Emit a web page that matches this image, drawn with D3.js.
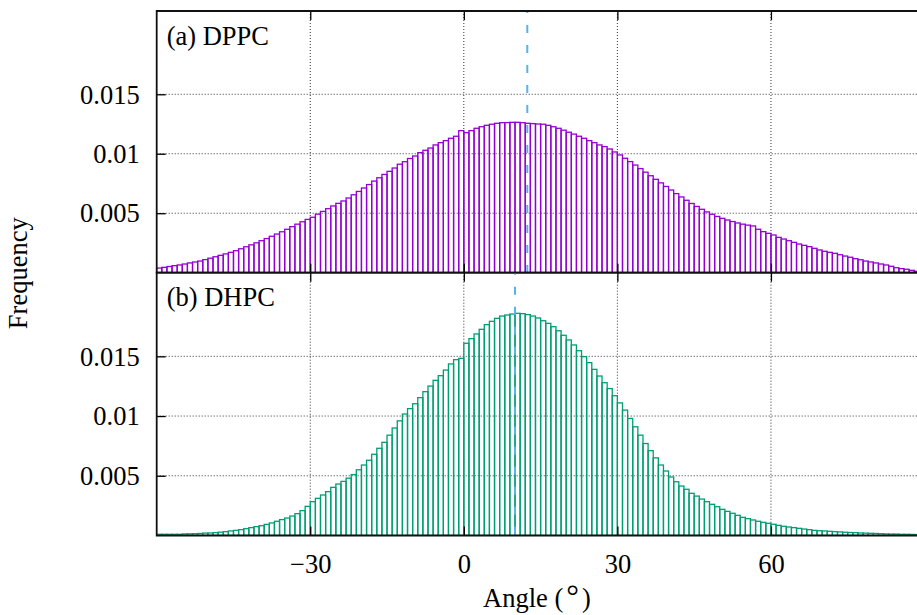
<!DOCTYPE html>
<html>
<head>
<meta charset="utf-8">
<script src="https://cdn.jsdelivr.net/npm/d3@7"></script>
<style>
  html, body { margin: 0; padding: 0; background: #fff; }
  svg { display: block; }
  text { font-family: "Liberation Serif", "Times New Roman", serif; fill: #000; }
</style>
</head>
<body>
<svg id="chart" width="917" height="615"></svg>
<script>
// Histogram bins: left edges in degrees, 1° wide
const binStart = -60;
const binWidth = 1;

// DPPC angle distribution, bins -60 .. 89
const dppc = [
  0.00039, 0.00045, 0.00052, 0.00059, 0.00065, 0.00073, 0.00082, 0.00090, 0.00098, 0.00110,
  0.00122, 0.00134, 0.00146, 0.00158, 0.00171, 0.00185, 0.00201, 0.00218, 0.00234, 0.00251,
  0.00269, 0.00287, 0.00306, 0.00325, 0.00344, 0.00365, 0.00387, 0.00408, 0.00428, 0.00448,
  0.00466, 0.00492, 0.00515, 0.00538, 0.00561, 0.00583, 0.00603, 0.00628, 0.00655, 0.00683,
  0.00712, 0.00741, 0.00770, 0.00798, 0.00826, 0.00852, 0.00880, 0.00912, 0.00933, 0.00960,
  0.00981, 0.01009, 0.01029, 0.01048, 0.01074, 0.01093, 0.01110, 0.01130, 0.01147, 0.01194,
  0.01177, 0.01194, 0.01214, 0.01227, 0.01239, 0.01248, 0.01256, 0.01261, 0.01262, 0.01264,
  0.01264, 0.01261, 0.01256, 0.01253, 0.01250, 0.01248, 0.01239, 0.01227, 0.01214, 0.01198,
  0.01181, 0.01165, 0.01147, 0.01130, 0.01110, 0.01093, 0.01074, 0.01060, 0.01040, 0.01015,
  0.00990, 0.00962, 0.00934, 0.00905, 0.00875, 0.00845, 0.00815, 0.00785, 0.00755, 0.00725,
  0.00695, 0.00665, 0.00637, 0.00609, 0.00582, 0.00557, 0.00533, 0.00511, 0.00491, 0.00473,
  0.00457, 0.00443, 0.00430, 0.00418, 0.00408, 0.00400, 0.00393, 0.00365, 0.00345, 0.00331,
  0.00317, 0.00297, 0.00283, 0.00269, 0.00255, 0.00241, 0.00230, 0.00219, 0.00205, 0.00191,
  0.00180, 0.00171, 0.00163, 0.00151, 0.00140, 0.00130, 0.00118, 0.00109, 0.00098, 0.00090,
  0.00082, 0.00073, 0.00065, 0.00054, 0.00042, 0.00034, 0.00029, 0.00020, 0.00012, 0.00005
];

// DHPC angle distribution, bins -60 .. 89
const dhpc = [
  0.00010, 0.00010, 0.00010, 0.00010, 0.00010, 0.00013, 0.00014, 0.00015, 0.00017, 0.00020,
  0.00021, 0.00024, 0.00028, 0.00032, 0.00038, 0.00043, 0.00049, 0.00057, 0.00066, 0.00074,
  0.00082, 0.00093, 0.00105, 0.00119, 0.00133, 0.00146, 0.00163, 0.00183, 0.00208, 0.00244,
  0.00283, 0.00311, 0.00339, 0.00367, 0.00403, 0.00431, 0.00453, 0.00480, 0.00510, 0.00550,
  0.00590, 0.00630, 0.00680, 0.00730, 0.00780, 0.00840, 0.00900, 0.00960, 0.01017, 0.01062,
  0.01103, 0.01154, 0.01204, 0.01251, 0.01299, 0.01338, 0.01385, 0.01436, 0.01472, 0.01483,
  0.01609, 0.01648, 0.01687, 0.01726, 0.01765, 0.01793, 0.01818, 0.01837, 0.01846, 0.01854,
  0.01860, 0.01857, 0.01849, 0.01837, 0.01821, 0.01798, 0.01776, 0.01748, 0.01714, 0.01676,
  0.01637, 0.01595, 0.01547, 0.01497, 0.01447, 0.01391, 0.01335, 0.01279, 0.01230, 0.01170,
  0.01110, 0.01050, 0.00980, 0.00910, 0.00840, 0.00770, 0.00710, 0.00650, 0.00590, 0.00540,
  0.00490, 0.00450, 0.00414, 0.00387, 0.00353, 0.00330, 0.00305, 0.00283, 0.00261, 0.00241,
  0.00219, 0.00202, 0.00186, 0.00169, 0.00152, 0.00141, 0.00130, 0.00119, 0.00110, 0.00102,
  0.00094, 0.00085, 0.00077, 0.00071, 0.00066, 0.00060, 0.00054, 0.00049, 0.00043, 0.00040,
  0.00038, 0.00035, 0.00032, 0.00030, 0.00027, 0.00025, 0.00024, 0.00021, 0.00020, 0.00018,
  0.00017, 0.00015, 0.00013, 0.00012, 0.00012, 0.00010, 0.00010, 0.00009, 0.00008, 0.00007
];

// Mean angle markers (degrees)
const meanAngles = [12.4, 10.0];

const panelLabels = ["(a) DPPC", "(b) DHPC"];
const seriesColors = ["#9400D3", "#009E73"];
const meanColor = "#56B4E9";

const xTicks = [-30, 0, 30, 60];
const yTicks = [0.005, 0.01, 0.015];
const yTickLabels = ["0.005", "0.01", "0.015"];
const xLabelParts = ["Angle (", "°", ")"];
const yLabel = "Frequency";

const xDomain = [-60, 90];
const yDomain = [0, 0.022];

// ---- layout ----
const svg = d3.select("#chart");
const left = 156.7, right = 924.5;
const panels = [
  { top: 11, bottom: 272.7, data: dppc },
  { top: 272.7, bottom: 535.5, data: dhpc }
];
const fontSize = 26.5;
const tickLen = 9;

const x = d3.scaleLinear().domain(xDomain).range([left, right]);

const defs = svg.append("defs");

panels.forEach((p, i) => {
  const y = d3.scaleLinear().domain(yDomain).range([p.bottom, p.top]);
  const g = svg.append("g");

  defs.append("clipPath").attr("id", "clip" + i)
    .append("rect")
    .attr("x", left).attr("y", p.top)
    .attr("width", right - left).attr("height", p.bottom - p.top);

  // grid
  const grid = g.append("g").attr("stroke", "#333").attr("stroke-width", 1)
    .attr("stroke-dasharray", "1,2").attr("fill", "none");
  xTicks.forEach(t => {
    grid.append("line").attr("x1", x(t)).attr("x2", x(t))
      .attr("y1", p.top).attr("y2", p.bottom);
  });
  yTicks.forEach(t => {
    grid.append("line").attr("x1", left).attr("x2", right)
      .attr("y1", y(t)).attr("y2", y(t));
  });

  // histogram boxes
  const bins = p.data.map((v, k) => ({ x0: binStart + k * binWidth, v }));
  g.append("g").attr("clip-path", `url(#clip${i})`)
    .selectAll("rect").data(bins).join("rect")
    .attr("x", d => x(d.x0))
    .attr("width", d => x(d.x0 + binWidth) - x(d.x0))
    .attr("y", d => y(d.v))
    .attr("height", d => y(0) - y(d.v))
    .attr("fill", "none")
    .attr("stroke", seriesColors[i])
    .attr("stroke-width", 1.3);

  // mean angle marker
  g.append("line")
    .attr("x1", x(meanAngles[i])).attr("x2", x(meanAngles[i]))
    .attr("y1", p.top).attr("y2", p.bottom)
    .attr("stroke", meanColor).attr("stroke-width", 2)
    .attr("stroke-dasharray", "8,12").attr("stroke-dashoffset", 6);

  // axes (ticks inward, labels on the left and along the bottom panel)
  const yAxis = d3.axisLeft(y).tickValues(yTicks)
    .tickFormat((d, k) => yTickLabels[k]).tickSizeInner(-tickLen).tickSizeOuter(0).tickPadding(17);
  const ya = g.append("g").attr("transform", `translate(${left},0)`).call(yAxis);
  ya.select(".domain").remove();
  ya.selectAll("line").attr("stroke", "#000").attr("stroke-width", 1.3);
  ya.selectAll("text").attr("font-size", fontSize)
    .attr("font-family", "Liberation Serif, serif").attr("dy", "0.33em");

  const xb = d3.axisBottom(x).tickValues(xTicks)
    .tickFormat(d => d3.format("")(d).replace("-", "\u2212"))
    .tickSizeInner(-tickLen).tickSizeOuter(0).tickPadding(18.5);
  const xa = g.append("g").attr("transform", `translate(0,${p.bottom})`).call(xb);
  xa.select(".domain").remove();
  xa.selectAll("line").attr("stroke", "#000").attr("stroke-width", 1.3);
  xa.selectAll("text").attr("font-size", fontSize)
    .attr("font-family", "Liberation Serif, serif").attr("dy", "0.71em");
  if (i === 0) xa.selectAll("text").remove();

  const xt = d3.axisTop(x).tickValues(xTicks).tickFormat("")
    .tickSizeInner(-tickLen).tickSizeOuter(0);
  const xta = g.append("g").attr("transform", `translate(0,${p.top})`).call(xt);
  xta.select(".domain").remove();
  xta.selectAll("line").attr("stroke", "#000").attr("stroke-width", 1.3);

  // panel frame
  g.append("path")
    .attr("d", `M${right},${p.top}H${left}V${p.bottom}H${right}`)
    .attr("fill", "none").attr("stroke", "#111").attr("stroke-width", 1.8);

  // panel label
  g.append("text").attr("x", left + 10).attr("y", p.top + 33.5)
    .attr("font-size", fontSize).text(panelLabels[i]);
});

// axis titles
svg.append("text")
  .attr("transform", `translate(27,${(panels[0].top + panels[1].bottom) / 2}) rotate(-90)`)
  .attr("text-anchor", "middle").attr("font-size", fontSize).text(yLabel);

const xl = svg.append("text")
  .attr("x", 537).attr("y", 607)
  .attr("text-anchor", "middle").attr("font-size", fontSize);
xl.append("tspan").text(xLabelParts[0]);
xl.append("tspan").attr("dx", 3).attr("font-size", fontSize * 1.2).text(xLabelParts[1]);
xl.append("tspan").attr("dx", 3).text(xLabelParts[2]);
</script>
</body>
</html>
